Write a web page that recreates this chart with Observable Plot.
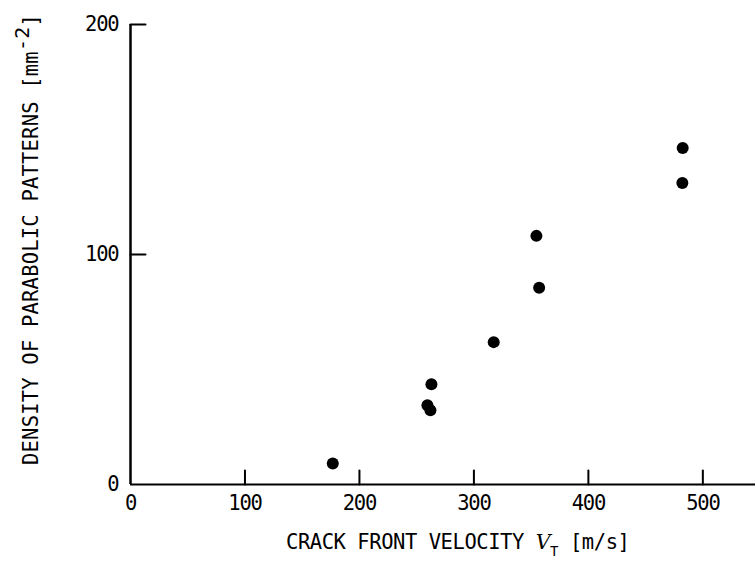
<!DOCTYPE html>
<html><head><meta charset="utf-8">
<script src="https://cdn.jsdelivr.net/npm/d3@7"></script>
<script src="https://cdn.jsdelivr.net/npm/@observablehq/plot@0.6"></script>
<style>
body{margin:0;background:#fff}
svg{display:block}
svg text{letter-spacing:-1.2px}
</style>
</head><body><div id="chart"></div>
<script>
// Data
const velocity = [176.7, 259.4, 262.0, 262.9, 317.3, 354.6, 357.0, 482.1, 482.4];
const density  = [9.1, 34.5, 32.3, 43.6, 61.9, 108.1, 85.5, 131.1, 146.3];
const xTickLabels = [0, 100, 200, 300, 400, 500];
const yTickLabels = [0, 100, 200];
const xTickMarks = [100, 200, 300, 400, 500];
const yTickMarks = [100, 200];
const xTitle = "CRACK FRONT VELOCITY ";
const yTitle = "DENSITY OF PARABOLIC PATTERNS ";

const points = velocity.map((v, i) => ({v, d: density[i]}));
const tickLine = {draw(ctx, l) { ctx.moveTo(0, 0); ctx.lineTo(0, -l); }};

const chart = Plot.plot({
  width: 755, height: 561,
  marginLeft: 130, marginRight: 0, marginTop: 24, marginBottom: 77,
  style: {fontFamily: "DejaVu Sans Mono", fontSize: "20.5px", color: "#000", background: "#fff"},
  x: {domain: [0, 546], label: null},
  y: {domain: [0, 200], label: null},
  marks: [
    Plot.ruleY([0], {stroke: "#000", strokeWidth: 2}),
    Plot.ruleX([0], {stroke: "#000", strokeWidth: 2.5}),
    Plot.vector(xTickMarks, {x: d => d, y: () => 0, length: 14, rotate: 0, anchor: "start", shape: tickLine, stroke: "#000", strokeWidth: 2}),
    Plot.vector(yTickMarks, {x: () => 0, y: d => d, length: 15, rotate: 90, anchor: "start", shape: tickLine, stroke: "#000", strokeWidth: 2}),
    Plot.axisX({ticks: xTickLabels, tickSize: 0, tickPadding: 11, label: null, fontSize: 20.5, tickFormat: d => String(d)}),
    Plot.axisY({ticks: yTickLabels, tickSize: 0, tickPadding: 12, label: null, fontSize: 20.5, tickFormat: d => String(d)}),
    Plot.dot(points, {x: "v", y: "d", r: 6, fill: "#000"})
  ]
});
document.getElementById("chart").appendChild(chart);

const svg = d3.select(chart);
const xt = svg.append("text")
  .attr("x", 286).attr("y", 549).attr("text-anchor", "start")
  .style("letter-spacing", "-0.45px")
  .attr("font-family", "DejaVu Sans Mono").attr("font-size", 20.5).attr("fill", "#000");
xt.append("tspan").style("letter-spacing", "-0.45px").text(xTitle);
xt.append("tspan").attr("font-family", "DejaVu Serif").attr("font-style", "italic").text("V");
xt.append("tspan").attr("font-size", 14).attr("dy", 7).text("T");
xt.append("tspan").style("letter-spacing", "-0.45px").attr("dy", -7).text(" [m/s]");

const yt = svg.append("text")
  .attr("transform", "translate(38,465) rotate(-90)").attr("text-anchor", "start")
  .attr("font-family", "DejaVu Sans Mono").attr("font-size", 20.5).attr("fill", "#000");
yt.append("tspan").style("letter-spacing", "0.2px").text(yTitle);
yt.append("tspan").style("letter-spacing", "0.2px").text("[mm");
yt.append("tspan").style("letter-spacing", "0.2px").attr("font-size", 20).attr("dy", -9).text("-2");
yt.append("tspan").attr("dy", 9).text("]");
</script>
</body></html>
